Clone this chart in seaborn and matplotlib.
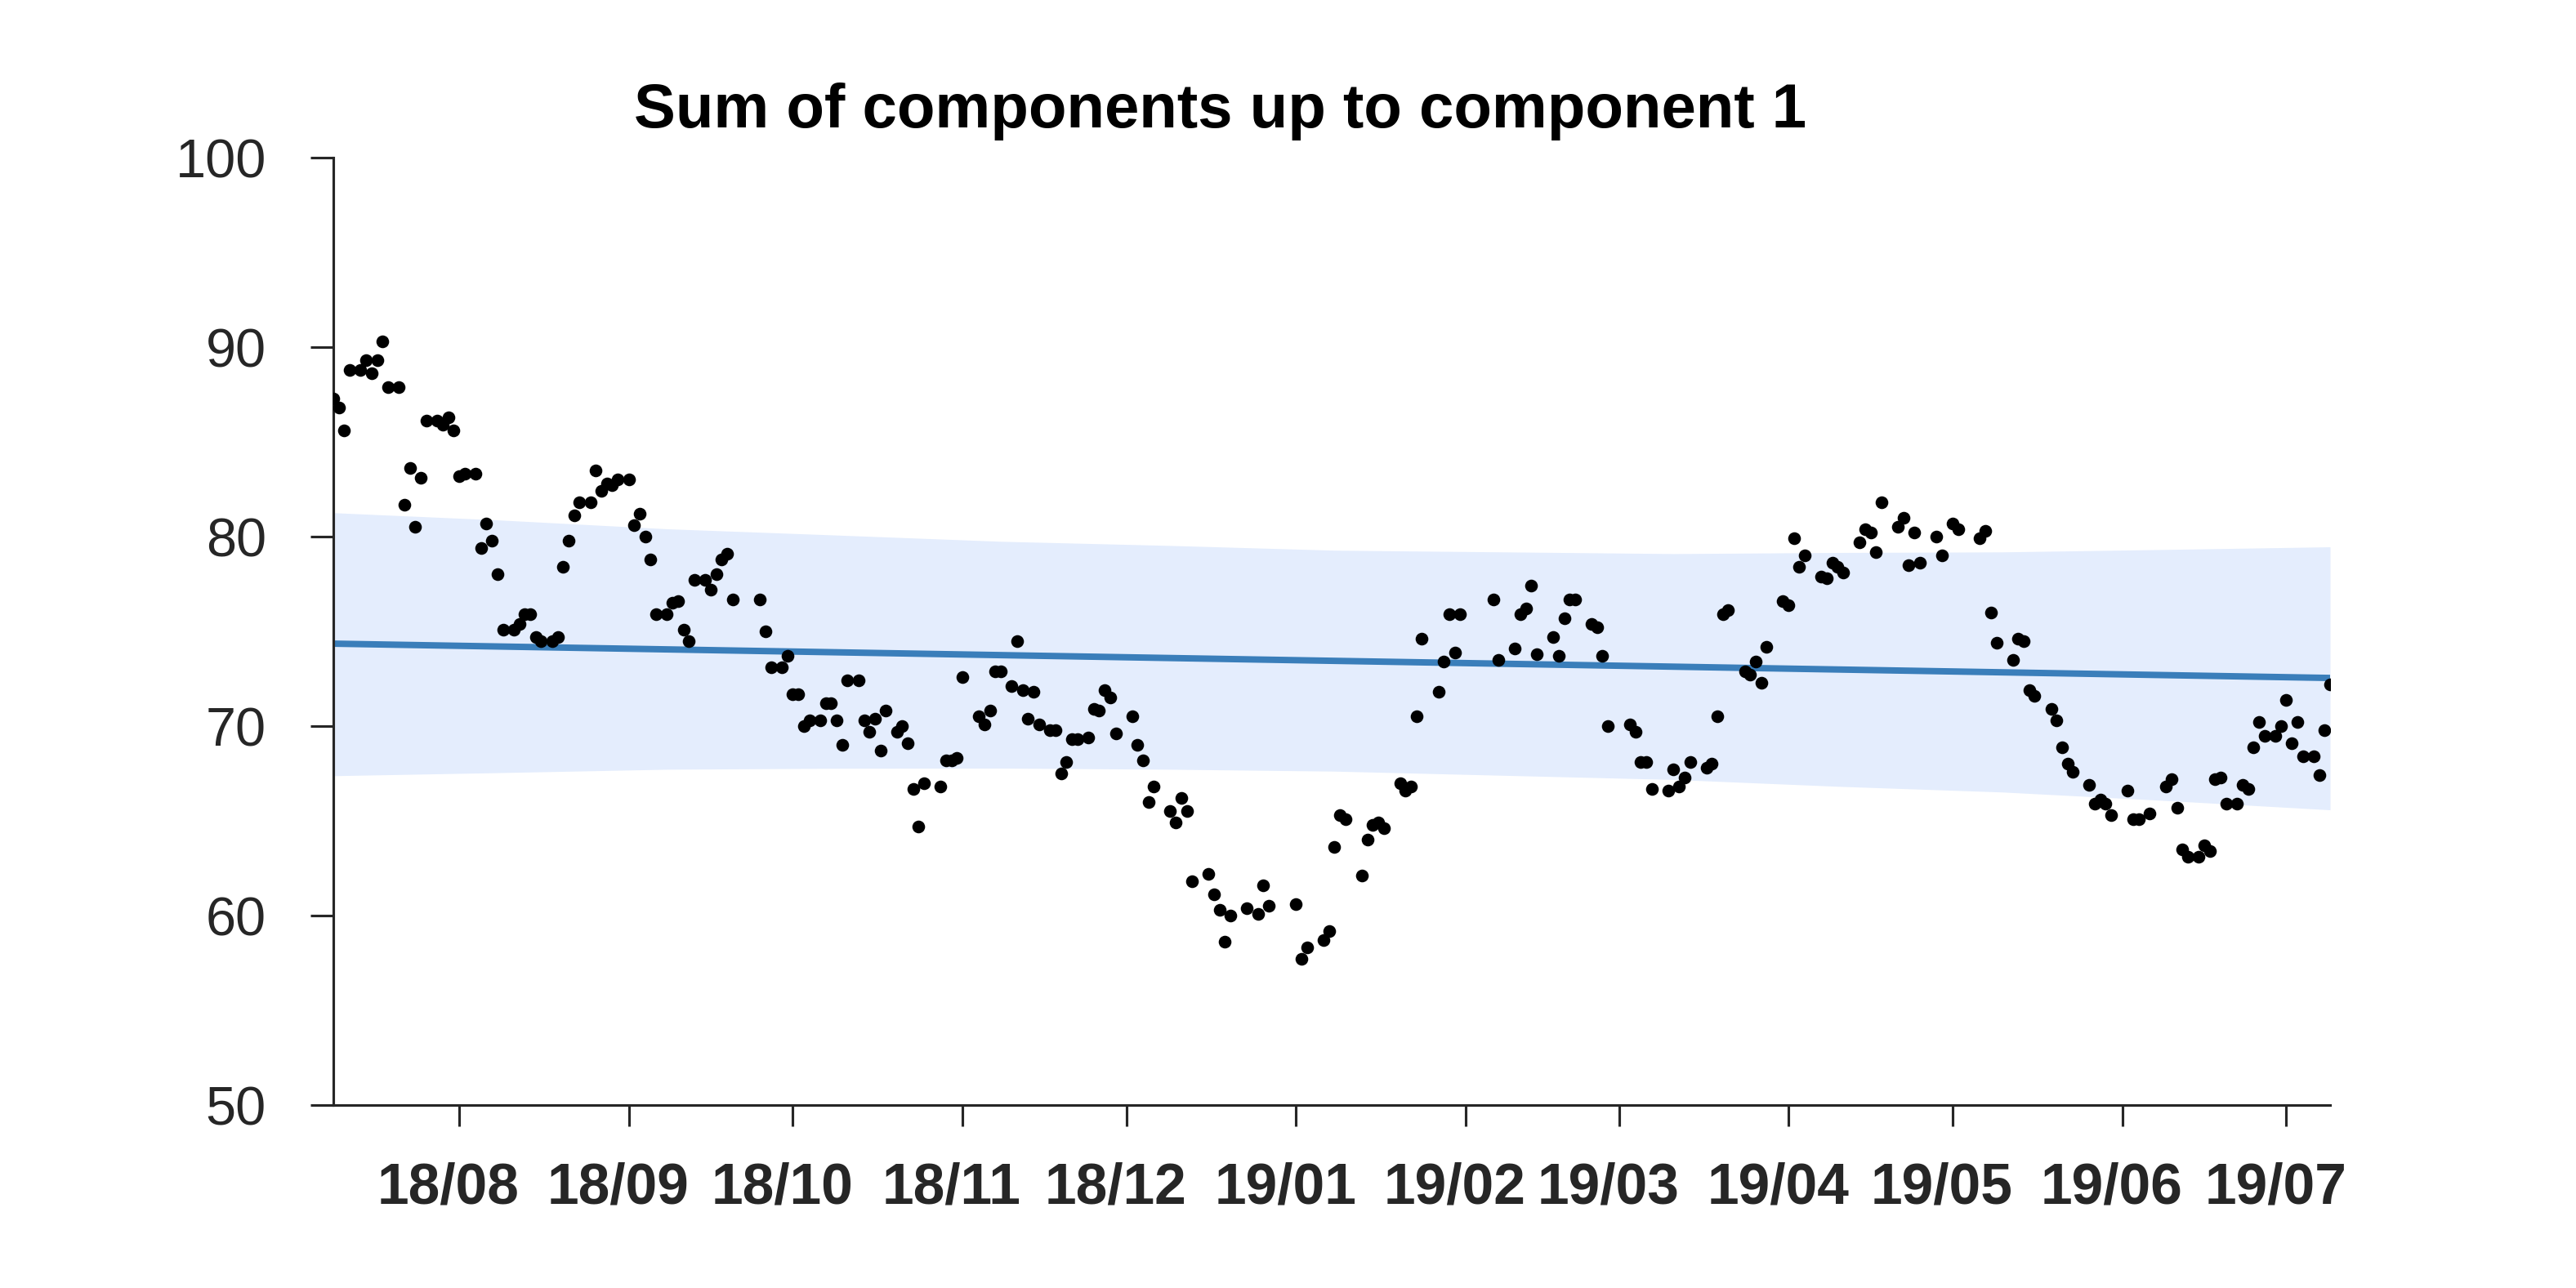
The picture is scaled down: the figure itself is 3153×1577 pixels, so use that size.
import numpy as np
import pandas as pd
import matplotlib
matplotlib.use("Agg")
import matplotlib.pyplot as plt
import seaborn as sns
from matplotlib.transforms import ScaledTranslation

# ---------------- data ----------------
start_date = "2018-07-09"
title_text = "Sum of components up to component 1"

obs_day = [0, 1, 2, 3, 5, 6, 7, 8, 9, 10, 12, 13, 14, 15, 16, 17, 19, 20, 21, 22,
           23, 24, 26, 27, 28, 29, 30, 31, 33, 34, 35, 36, 37, 38, 40, 41, 42, 43, 44, 45,
           47, 48, 49, 50, 51, 52, 54, 55, 56, 57, 58, 59, 61, 62, 63, 64, 65, 66, 68, 69,
           70, 71, 72, 73, 78, 79, 80, 82, 83, 84, 85, 86, 87, 89, 90, 91, 92, 93, 94, 96,
           97, 98, 99, 100, 101, 103, 104, 105, 106, 107, 108, 111, 112, 113, 114, 115, 118, 119, 120, 121,
           122, 124, 125, 126, 127, 128, 129, 131, 132, 133, 134, 135, 136, 138, 139, 140, 141, 142, 143, 146,
           147, 148, 149, 150, 153, 154, 155, 156, 157, 160, 161, 162, 163, 164, 167, 169, 170, 171, 176, 177,
           178, 181, 182, 183, 184, 185, 188, 189, 190, 191, 192, 195, 196, 197, 198, 199, 202, 203, 204, 205,
           206, 212, 213, 216, 217, 218, 219, 220, 223, 224, 225, 226, 227, 230, 231, 232, 233, 237, 238, 239,
           240, 241, 244, 245, 246, 247, 248, 251, 252, 253, 254, 255, 258, 259, 260, 261, 262, 265, 266, 267,
           268, 269, 272, 273, 274, 275, 276, 279, 280, 281, 282, 283, 286, 287, 288, 289, 290, 293, 294, 296,
           297, 301, 302, 303, 304, 307, 308, 309, 310, 311, 314, 315, 316, 317, 318, 321, 322, 323, 324, 325,
           328, 329, 330, 332, 335, 336, 337, 338, 339, 341, 342, 343, 344, 345, 346, 348, 349, 350, 351, 352,
           353, 355, 356, 357, 358, 359, 360, 362, 363, 364, 365]

obs_value = [87.3, 86.8, 85.6, 88.8, 88.8, 89.3, 88.6, 89.3, 90.3, 87.9, 87.9, 81.7, 83.6, 80.5, 83.1, 86.1, 86.1, 85.9, 86.3, 85.6,
             83.2, 83.3, 83.3, 79.4, 80.7, 79.8, 78.0, 75.1, 75.1, 75.4, 75.9, 75.9, 74.7, 74.5, 74.5, 74.7, 78.4, 79.8, 81.1, 81.8,
             81.8, 83.5, 82.4, 82.8, 82.7, 83.0, 83.0, 80.6, 81.2, 80.0, 78.8, 75.9, 75.9, 76.5, 76.6, 75.1, 74.5, 77.7, 77.7, 77.2,
             78.0, 78.8, 79.1, 76.7, 76.7, 75.0, 73.1, 73.1, 73.7, 71.7, 71.7, 70.0, 70.3, 70.3, 71.2, 71.2, 70.3, 69.0, 72.4, 72.4,
             70.3, 69.7, 70.4, 68.7, 70.8, 69.7, 70.0, 69.1, 66.7, 64.7, 67.0, 66.8, 68.2, 68.2, 68.3, 72.6, 70.5, 70.1, 70.8, 72.9,
             72.9, 72.1, 74.5, 71.9, 70.4, 71.8, 70.1, 69.8, 69.8, 67.5, 68.1, 69.3, 69.3, 69.4, 70.9, 70.8, 71.9, 71.5, 69.6, 70.5,
             69.0, 68.2, 66.0, 66.8, 65.5, 64.9, 66.2, 65.5, 61.8, 62.2, 61.1, 60.3, 58.6, 60.0, 60.4, 60.1, 61.6, 60.5, 60.6, 57.7,
             58.3, 58.7, 59.2, 63.6, 65.3, 65.1, 62.1, 64.0, 64.8, 64.9, 64.6, 67.0, 66.6, 66.8, 70.5, 74.6, 71.8, 73.4, 75.9, 73.9,
             75.9, 76.7, 73.5, 74.1, 75.9, 76.2, 77.4, 73.8, 74.7, 73.7, 75.7, 76.7, 76.7, 75.4, 75.2, 73.7, 70.0, 70.1, 69.7, 68.1,
             68.1, 66.7, 66.6, 67.7, 66.8, 67.3, 68.1, 67.8, 68.0, 70.5, 75.9, 76.1, 72.9, 72.7, 73.4, 72.3, 74.2, 76.6, 76.4, 79.9,
             78.4, 79.0, 77.9, 77.8, 78.6, 78.4, 78.1, 79.7, 80.4, 80.2, 79.2, 81.8, 80.5, 81.0, 78.5, 80.2, 78.6, 80.0, 79.0, 80.7,
             80.4, 79.9, 80.3, 76.0, 74.4, 73.5, 74.6, 74.5, 71.9, 71.6, 70.9, 70.3, 68.9, 68.0, 67.6, 66.9, 65.9, 66.1, 65.9, 65.3,
             66.6, 65.1, 65.1, 65.4, 66.8, 67.2, 65.7, 63.5, 63.1, 63.1, 63.7, 63.4, 67.2, 67.3, 65.9, 65.9, 66.9, 66.7, 68.9, 70.2,
             69.5, 69.5, 70.0, 71.4, 69.1, 70.2, 68.4, 68.4, 67.4, 69.8, 72.2]

trend_day = [0, 365]
trend_value = [74.35, 72.54]

band_day = [0, 30, 61, 91, 122, 153, 183, 214, 245, 275, 305, 335, 365]
band_upper = [81.26, 80.88, 80.41, 80.09, 79.75, 79.53, 79.28, 79.19, 79.10, 79.16, 79.19, 79.32, 79.46]
band_lower = [67.38, 67.54, 67.72, 67.77, 67.78, 67.72, 67.62, 67.40, 67.18, 66.82, 66.52, 66.07, 65.58]

month_ticks = ["2018-08-01", "2018-09-01", "2018-10-01", "2018-11-01", "2018-12-01", "2019-01-01",
               "2019-02-01", "2019-03-01", "2019-04-01", "2019-05-01", "2019-06-01", "2019-07-01"]
month_labels = ["18/08", "18/09", "18/10", "18/11", "18/12", "19/01",
                "19/02", "19/03", "19/04", "19/05", "19/06", "19/07"]
y_ticks = [50, 60, 70, 80, 90, 100]

# ---------------- style ----------------
sns.set_theme(style="ticks")
plt.rcParams["font.family"] = ["Liberation Sans", "DejaVu Sans"]
DPI = 300
W, H = 3153, 1577
ink = "#262626"

base = pd.Timestamp(start_date)
to_dates = lambda days: base + pd.to_timedelta(days, unit="D")
obs = pd.DataFrame({"date": to_dates(obs_day), "value": obs_value})
trend = pd.DataFrame({"date": to_dates(trend_day), "value": trend_value})
band = pd.DataFrame({"date": to_dates(band_day), "upper": band_upper, "lower": band_lower})

fig = plt.figure(figsize=(W / DPI, H / DPI), dpi=DPI)
ax = fig.add_axes([408 / W, (H - 1353) / H, (2852 - 408) / W, (1353 - 193) / H])

ax.fill_between(band["date"], band["lower"], band["upper"], color="#E4EDFD", lw=0, zorder=1)
sns.lineplot(data=trend, x="date", y="value", color="#3A7EBA", lw=1.9, ax=ax, zorder=2)
sns.scatterplot(data=obs, x="date", y="value", color="black", s=14, linewidth=0, ax=ax, zorder=3)

ax.set_xlim(to_dates([0])[0], to_dates([365])[0])
ax.set_ylim(50, 100)
ax.set_yticks(y_ticks)
ax.set_yticklabels([str(v) for v in y_ticks], fontsize=16, color=ink)
ax.set_xticks(pd.to_datetime(month_ticks))
ax.set_xticklabels(month_labels, fontsize=16.7, fontweight="bold", color=ink)
ax.set_xlabel("")
ax.set_ylabel("")

for side in ["top", "right"]:
    ax.spines[side].set_visible(False)
for side in ["left", "bottom"]:
    ax.spines[side].set_linewidth(0.75)
    ax.spines[side].set_color(ink)

ax.tick_params(axis="x", direction="out", length=6.2, width=0.75, color=ink, pad=10.5)
ax.tick_params(axis="y", direction="out", length=6.7, width=0.75, color=ink, pad=13)

shift = ScaledTranslation(-13 / DPI, 0, fig.dpi_scale_trans)
for lbl in ax.get_xticklabels():
    lbl.set_transform(lbl.get_transform() + shift)

fig.text(1494 / W, 1 - 136 / H, title_text, ha="center", va="center",
         fontsize=18.3, fontweight="bold", color="black")

fig.savefig("out.png", dpi=DPI, facecolor="white")
